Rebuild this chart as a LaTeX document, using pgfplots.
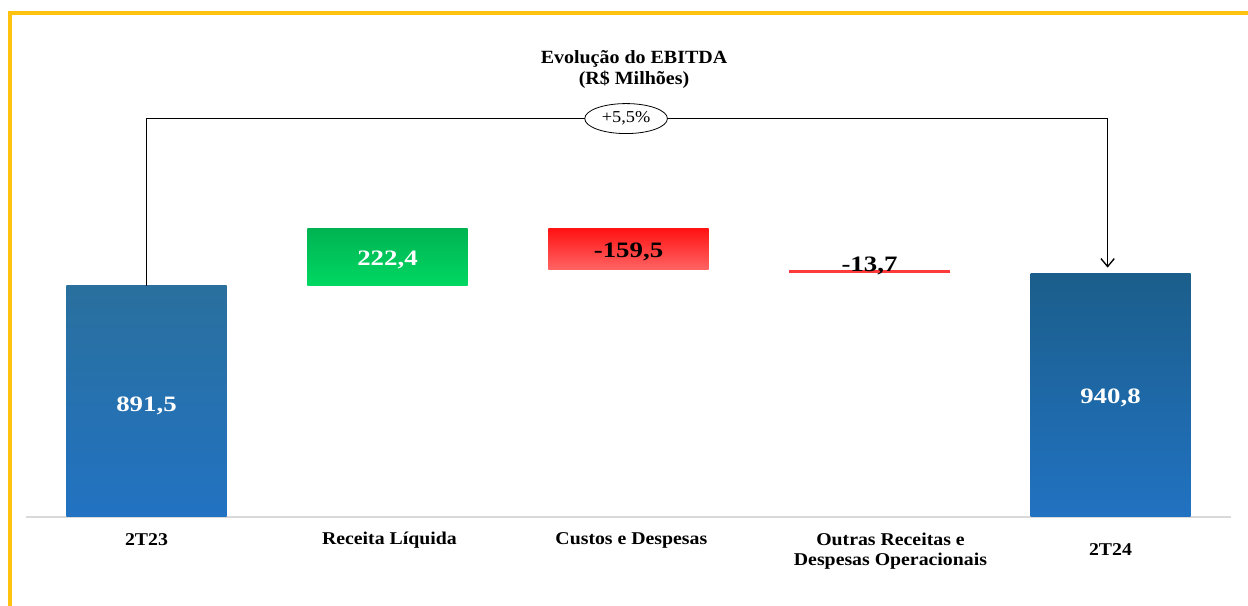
\documentclass[border=0pt]{standalone}
\usepackage{pgfplots}
\pgfplotsset{compat=1.18}
\usepackage{fontspec}
\setmainfont{Liberation Serif}
\newfontfamily\titlefont{Liberation Serif}[FakeStretch=1.07]
\newfontfamily\labfont{Liberation Serif}[FakeStretch=1.1]
\newfontfamily\valfont{Liberation Serif}[FakeStretch=1.22]
\usetikzlibrary{arrows.meta,shapes.geometric}
\definecolor{frameyellow}{HTML}{FFC20E}
\definecolor{blueA}{HTML}{2A709E}
\definecolor{blueMid}{HTML}{1B5C8A}
\definecolor{blueBot}{HTML}{2172C2}
\definecolor{blueTop2}{HTML}{1B5E8B}
\definecolor{greenTop}{HTML}{00B352}
\definecolor{greenBot}{HTML}{00D862}
\definecolor{redTop}{HTML}{FF1212}
\definecolor{redBot}{HTML}{FF6464}
\definecolor{redLine}{HTML}{FF3A3A}
\definecolor{baseGray}{HTML}{D9D9D9}
\begin{document}
\begin{tikzpicture}
\path[use as bounding box] (0,0) rectangle (936pt,454.5pt);
\draw[frameyellow, line width=2.4pt] (7.5pt,0) -- (7.5pt,444.75pt) -- (936pt,444.75pt);
\node[align=center, font=\titlefont\bfseries\fontsize{14}{15.7}\selectfont] at (475.5pt,402.2pt) {Evolução do EBITDA\\(R\$ Milhões)};
\begin{axis}[
  at={(19.5pt,66.75pt)}, anchor=south west,
  scale only axis, width=903.75pt, height=330.5pt,
  xmin=-0.5, xmax=4.5, ymin=0, ymax=1700,
  hide axis, clip=false,
]
\draw[baseGray, line width=1.2pt] (axis cs:-0.5,0) -- (axis cs:4.5,0);
% 2T23
\addplot[draw=none, mark=none, top color=blueA, middle color=blueMid, bottom color=blueBot]
  coordinates {(-0.332,0) (0.332,0) (0.332,891.5) (-0.332,891.5)} -- cycle;
% Receita Liquida
\addplot[draw=none, mark=none, top color=greenTop, bottom color=greenBot]
  coordinates {(0.668,891.5) (1.332,891.5) (1.332,1113.9) (0.668,1113.9)} -- cycle;
% Custos e Despesas
\addplot[draw=none, mark=none, top color=redTop, bottom color=redBot]
  coordinates {(1.668,954.4) (2.332,954.4) (2.332,1113.9) (1.668,1113.9)} -- cycle;
% Outras
\addplot[draw=none, mark=none, fill=redLine]
  coordinates {(2.668,940.7) (3.332,940.7) (3.332,954.4) (2.668,954.4)} -- cycle;
% 2T24
\addplot[draw=none, mark=none, top color=blueTop2, middle color=blueMid!90!blueBot, bottom color=blueBot]
  coordinates {(3.668,0) (4.332,0) (4.332,940.8) (3.668,940.8)} -- cycle;
% value labels
\node[white, font=\valfont\bfseries\fontsize{16.5}{18}\selectfont] at (axis cs:0,428) {891,5};
\node[white, font=\valfont\bfseries\fontsize{16.5}{18}\selectfont] at (axis cs:1,992) {222,4};
\node[black, font=\valfont\bfseries\fontsize{16.5}{18}\selectfont] at (axis cs:2,1022) {-159,5};
\node[black, font=\valfont\bfseries\fontsize{16.5}{18}\selectfont] at (axis cs:3,968) {-13,7};
\node[white, font=\valfont\bfseries\fontsize{16.5}{18}\selectfont] at (axis cs:4,460) {940,8};
% bracket
\draw[line width=1pt, -{Straight Barb[length=6pt,width=10pt,line width=1pt]}] (axis cs:0,891.5) -- (axis cs:0,1537) -- (axis cs:3.988,1537) -- (axis cs:3.988,962);
\node[ellipse, draw=black, line width=0.6pt, fill=white, minimum width=62pt, minimum height=22.5pt, inner sep=0pt, font=\labfont\fontsize{12.5}{14}\selectfont] at (axis cs:1.99,1537) {+5,5\%};
% category labels
\node[font=\labfont\bfseries\fontsize{13.5}{15.5}\selectfont] at ([yshift=-17.25pt]axis cs:0,0) {2T23};
\node[font=\labfont\bfseries\fontsize{13.5}{15.5}\selectfont] at ([yshift=-17.25pt]axis cs:1.008,0) {Receita Líquida};
\node[font=\labfont\bfseries\fontsize{13.5}{15.5}\selectfont] at ([yshift=-17.25pt]axis cs:2.012,0) {Custos e Despesas};
\node[align=center, font=\labfont\bfseries\fontsize{13.5}{15}\selectfont] at ([yshift=-25.5pt]axis cs:3.087,0) {Outras Receitas e\\Despesas Operacionais};
\node[font=\labfont\bfseries\fontsize{13.5}{15.5}\selectfont] at ([yshift=-24.75pt]axis cs:4.0,0) {2T24};
\end{axis}
\end{tikzpicture}
\end{document}
